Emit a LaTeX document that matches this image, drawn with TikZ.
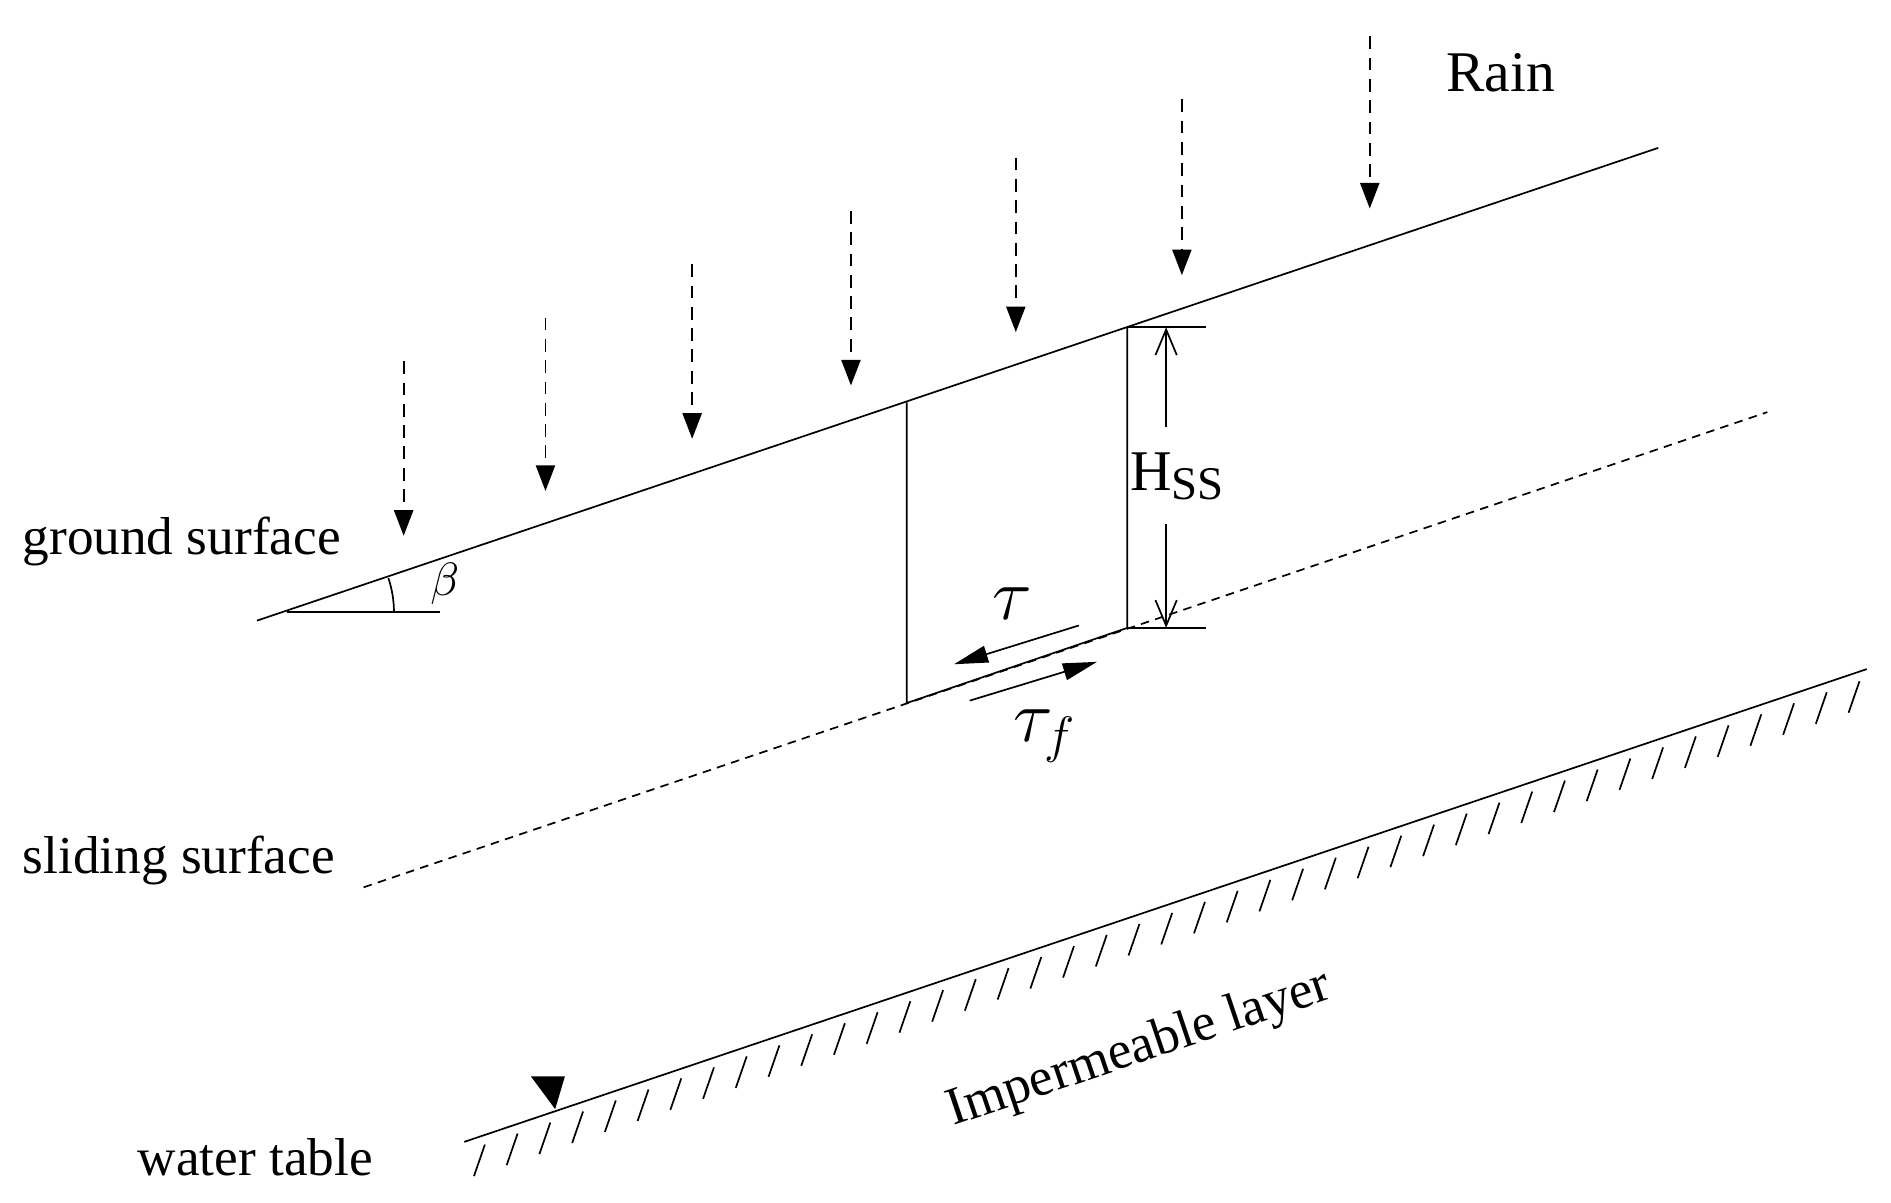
\documentclass[tikz,border=0pt]{standalone}
\usepackage{fontspec}
\setmainfont{Liberation Serif}
\usetikzlibrary{arrows.meta}
\begin{document}
\begin{tikzpicture}[x=0.01cm,y=-0.01cm,
  lbl/.style={font=\fontsize{12.5}{14}\selectfont,inner sep=0pt},
  rain/.style={densely dashed,dash pattern=on 3pt off 2pt,-{Triangle[width=4.5pt,length=6pt]}},
  shear/.style={-{Triangle[width=4pt,length=8pt]}},
  dim/.style={-{Straight Barb[width=5pt,length=6pt]},line width=0.4pt}]
\useasboundingbox (0,0) rectangle (1560,992);
% ground surface
\coordinate (g1) at (212,512); \coordinate (g2) at (1368,122);
\draw (g1) -- (g2);
\coordinate (b0) at (237,505);
\draw (b0) -- (363,505);
\draw (325,505) arc[start angle=0,end angle=-18.6,radius=88];
\node[lbl,font=\fontsize{11}{12}\selectfont] (beta) at (367,482) {$\beta$};
% sliding surface
\coordinate (s1) at (300,732); \coordinate (s2) at (1458,340);
\draw[densely dashed,dash pattern=on 2pt off 1.5pt,line width=0.4pt] (s1) -- (s2);
% impermeable layer
\coordinate (i1) at (383,942); \coordinate (i2) at (1540,552);
\draw (i1) -- (i2);
\foreach \x in {400,427,...,1540} {
  \pgfmathsetmacro{\yy}{942-0.3371*(\x-383)}
  \draw[line width=0.4pt] (\x,\yy+8) -- (\x-9,\yy+34);
}
\fill (438,888) -- (466,888) -- (458,915) -- cycle;
% block
\coordinate (bl) at (748,580); \coordinate (br) at (930,518);
\coordinate (tl) at (748,332); \coordinate (tr) at (930,270);
\draw (tl) -- (bl) -- (br) -- (tr);
% dimension
\coordinate (d1) at (995,270); \coordinate (d2) at (995,518);
\draw[line width=0.4pt] (tr) -- (d1);
\draw[line width=0.4pt] (br) -- (d2);
\node[lbl,font=\fontsize{13.5}{15}\selectfont] (H) at (972,393) {H\textsubscript{\fontsize{11}{12}\selectfont SS}};
\draw[dim] (962,352) -- (962,270);
\draw[dim] (962,432) -- (962,518);
% shear arrows
\coordinate (ta) at (890,516); \coordinate (tb) at (787,548);
\draw[shear] (ta) -- (tb);
\node[lbl,font=\fontsize{17}{19}\selectfont] (tau) at (835,498) {$\tau$};
\coordinate (fa) at (800,578); \coordinate (fb) at (905,546);
\draw[shear] (fa) -- (fb);
\node[lbl,font=\fontsize{17}{19}\selectfont] (tauf) at (862,607) {$\tau_f$};
% rain
\foreach \x/\a/\b in {333/298/442,450/262/405,571/218/362,702/174/318,838/130/274,975/82/227,1130/30/172}
  \draw[rain] (\x,\a) -- (\x,\b);
\node[lbl,font=\fontsize{13.5}{15}\selectfont] (rainl) at (1238,60) {Rain};
% labels
\node[lbl,anchor=west] (gs) at (18,447) {ground surface};
\node[lbl,anchor=west] (ss) at (18,710) {sliding surface};
\node[lbl,anchor=west] (wt) at (113,955) {water table};
\node[lbl,rotate=18.6] (imp) at (940,866) {Impermeable layer};
\end{tikzpicture}
\end{document}
